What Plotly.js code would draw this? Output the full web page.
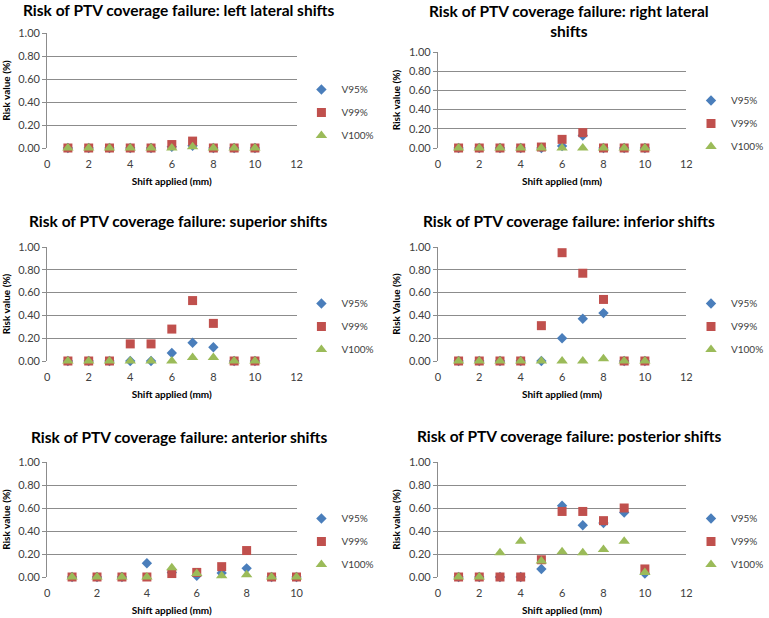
<!DOCTYPE html>
<html>
<head>
<meta charset="utf-8">
<script src="https://cdn.plot.ly/plotly-3.0.1.min.js"></script>
<style>html,body{margin:0;padding:0;background:#fff;}#chart{width:769px;height:618px;}</style>
</head>
<body>
<div id="chart"></div>
<script>
// Shift applied (mm)
const shifts = [1, 2, 3, 4, 5, 6, 7, 8, 9, 10];
const seriesNames = ["V95%", "V99%", "V100%"];

const panelTitles = [
  "Risk of PTV coverage failure: left lateral shifts",
  "Risk of PTV coverage failure: right lateral<br>shifts",
  "Risk of PTV coverage failure: superior shifts",
  "Risk of PTV coverage failure: inferior shifts",
  "Risk of PTV coverage failure: anterior shifts",
  "Risk of PTV coverage failure: posterior shifts"
];
const yTitles = ["Risk value (%)", "Risk value (%)", "Risk value (%)", "Risk Value (%)", "Risk value (%)", "Risk value (%)"];
const xTitle = "Shift applied (mm)";
const yTicks = [0, 0.2, 0.4, 0.6, 0.8, 1.0];
const xMax = [12, 12, 12, 12, 10, 12];

// left lateral
const leftV95  = [0, 0, 0, 0, 0, 0.01, 0.02, 0, 0, 0];
const leftV99  = [0, 0, 0, 0, 0, 0.03, 0.06, 0, 0, 0];
const leftV100 = [0, 0, 0, 0, 0, 0, 0.01, 0, 0, 0];
// right lateral
const rightV95  = [0, 0, 0, 0, 0, 0.02, 0.13, 0, 0, 0];
const rightV99  = [0, 0, 0, 0, 0.01, 0.09, 0.16, 0, 0, 0];
const rightV100 = [0, 0, 0, 0, 0, 0, 0, 0, 0, 0];
// superior
const supV95  = [0, 0, 0, 0, 0, 0.07, 0.16, 0.12, 0, 0];
const supV99  = [0, 0, 0, 0.15, 0.15, 0.28, 0.53, 0.33, 0, 0];
const supV100 = [0, 0, 0, 0, 0, 0, 0.03, 0.03, 0, 0];
// inferior
const infV95  = [0, 0, 0, 0, 0, 0.20, 0.37, 0.42, 0, 0];
const infV99  = [0, 0, 0, 0, 0.31, 0.95, 0.77, 0.54, 0, 0];
const infV100 = [0, 0, 0, 0, 0, 0, 0, 0.02, 0, 0];
// anterior
const antV95  = [0, 0, 0, 0.12, 0.04, 0.01, 0.035, 0.075, 0, 0];
const antV99  = [0, 0, 0, 0, 0.03, 0.04, 0.09, 0.23, 0, 0];
const antV100 = [0, 0, 0, 0, 0.08, 0.03, 0.01, 0.02, 0, 0];
// posterior
const postV95  = [0, 0, 0, 0, 0.07, 0.62, 0.45, 0.47, 0.56, 0.03];
const postV99  = [0, 0, 0, 0, 0.15, 0.57, 0.57, 0.49, 0.60, 0.07];
const postV100 = [0, 0, 0.21, 0.31, 0.14, 0.22, 0.21, 0.24, 0.31, 0.04];

const panelData = [
  [leftV95, leftV99, leftV100],
  [rightV95, rightV99, rightV100],
  [supV95, supV99, supV100],
  [infV95, infV99, infV100],
  [antV95, antV99, antV100],
  [postV95, postV99, postV100]
];

const colors = ["#4A7EBB", "#C0504D", "#9BBB59"];
const symbols = ["diamond", "square", "triangle-up"];
const sizes = [8, 9, 10];

const W = 769, H = 618;
// plot areas in pixels: [left, right, top, bottom]
const boxes = [
  [48, 302, 33, 148],
  [446, 699, 52, 148],
  [48, 302, 247, 361],
  [446, 699, 247, 361],
  [48, 302, 462, 577],
  [446, 699, 462, 577]
];
const titlePos = [[182, 10], [580, 21], [182, 221], [580, 221], [182, 437], [580, 436]];
const legendTop = [75, 86, 289, 289, 504, 504];

const fontFam = "Lato, 'Open Sans', sans-serif";
const traces = [];
const layout = {
  width: W, height: H,
  margin: {l: 0, r: 0, t: 0, b: 0},
  paper_bgcolor: "#fff", plot_bgcolor: "#fff",
  font: {family: fontFam, color: "#404040"},
  annotations: []
};

boxes.forEach((b, i) => {
  const n = i + 1;
  const xa = "xaxis" + (n === 1 ? "" : n);
  const ya = "yaxis" + (n === 1 ? "" : n);
  const lg = "legend" + (n === 1 ? "" : n);
  panelData[i].forEach((vals, s) => {
    traces.push({
      type: "scatter", mode: "markers",
      x: shifts, y: vals,
      name: seriesNames[s],
      xaxis: "x" + (n === 1 ? "" : n), yaxis: "y" + (n === 1 ? "" : n),
      legend: lg, legendgroup: "p" + n + "s" + s,
      cliponaxis: false,
      marker: {symbol: symbols[s], color: colors[s], size: sizes[s], line: {width: 0}}
    });
  });
  layout[xa] = {
    domain: [b[0] / W, b[1] / W],
    anchor: "y" + (n === 1 ? "" : n),
    range: [0, xMax[i]], dtick: 2, tick0: 0,
    showgrid: false, zeroline: false, showline: false,
    ticks: "", ticklabelstandoff: 8, tickfont: {size: 11, color: "#404040"},
    title: {text: xTitle, font: {size: 10, color: "#000", family: fontFam, weight: "bold"}, standoff: 8}
  };
  layout[ya] = {
    domain: [1 - b[3] / H, 1 - b[2] / H],
    anchor: "x" + (n === 1 ? "" : n),
    range: [0, 1], tickvals: yTicks, tickformat: ".2f",
    showgrid: true, gridcolor: "#8C8C8C", gridwidth: 1,
    zeroline: false, showline: true, linecolor: "#8C8C8C",
    ticks: "outside", ticklen: 4, tickcolor: "#8C8C8C",
    tickfont: {size: 11, color: "#404040"},
    title: {text: yTitles[i], font: {size: 10, color: "#000", family: fontFam, weight: "bold"}, standoff: 6}
  };
  layout[lg] = {
    x: (b[1] + 5) / W, xanchor: "left",
    y: 1 - legendTop[i] / H, yanchor: "top",
    bgcolor: "rgba(0,0,0,0)",
    font: {size: 10, color: "#404040"},
    tracegroupgap: 4, itemwidth: 30
  };
  layout.annotations.push({
    xref: "paper", yref: "paper",
    x: titlePos[i][0] / W, y: 1 - titlePos[i][1] / H,
    xanchor: "center", yanchor: "middle",
    text: panelTitles[i], showarrow: false,
    font: {size: 15.5, color: "#000", family: fontFam, weight: "bold"}
  });
});

Plotly.newPlot("chart", traces, layout, {displayModeBar: false, staticPlot: true});
</script>
</body>
</html>
